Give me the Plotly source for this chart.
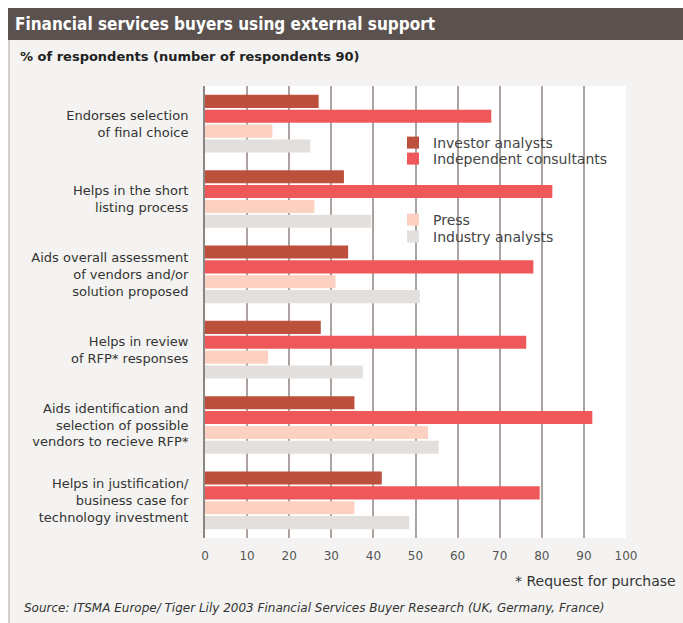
import plotly.graph_objects as go

categories = [
    "Endorses selection<br>of final choice",
    "Helps in the short<br>listing process",
    "Aids overall assessment<br>of vendors and/or<br>solution proposed",
    "Helps in review<br>of RFP* responses",
    "Aids identification and<br>selection of possible<br>vendors to recieve RFP*",
    "Helps in justification/<br>business case for<br>technology investment",
]
series_names = ["Investor analysts", "Independent consultants", "Press", "Industry analysts"]
investor = [27, 33, 34, 27.5, 35.5, 42]
independent = [68, 82.5, 78, 76.3, 92, 79.5]
press = [16, 26, 31, 15, 53, 35.5]
industry = [25, 39.5, 51, 37.5, 55.5, 48.5]
tick_vals = [0, 10, 20, 30, 40, 50, 60, 70, 80, 90, 100]

colors = ["#bd503d", "#ef585a", "#fcd1c1", "#e3dfdc"]
values = [investor, independent, press, industry]

# plot area in pixels
L, R, T, B = 205, 626, 86, 538
W, H = R - L, B - T
def px(x):
    return (x - L) / W
def py(y):
    return (B - y) / H

FONT = "Liberation Sans Narrow, DejaVu Sans Condensed, Liberation Sans, Arial, sans-serif"
FONT2 = "DejaVu Sans, Liberation Sans, Arial, sans-serif"

fig = go.Figure()
legend_ids = ["legend", "legend2", "legend3", "legend4"]
legend_y = [143, 159, 220, 237]
for name, vals, col, lid in zip(series_names, values, colors, legend_ids):
    fig.add_trace(go.Bar(
        y=categories, x=vals, orientation="h", name=name,
        marker=dict(color=col, line=dict(width=0)),
        legend=lid,
    ))

legend_common = dict(
    xanchor="left", yanchor="middle", bgcolor="rgba(0,0,0,0)", borderwidth=0,
    font=dict(family=FONT2, size=14, color="#444444"),
)
layout_legends = {}
for lid, ly in zip(legend_ids, legend_y):
    layout_legends[lid] = dict(x=px(393), y=py(ly), **legend_common)

shapes = [
    # white top and left strips
    dict(type="rect", xref="paper", yref="paper", x0=px(0), x1=px(683), y0=py(8), y1=py(0),
         fillcolor="white", line=dict(width=0), layer="below"),
    dict(type="rect", xref="paper", yref="paper", x0=px(0), x1=px(8), y0=py(623), y1=py(0),
         fillcolor="white", line=dict(width=0), layer="below"),
    # title bar
    dict(type="rect", xref="paper", yref="paper", x0=px(8), x1=px(683), y0=py(40), y1=py(8),
         fillcolor="#5b524f", line=dict(width=0), layer="below"),
    # left border line
    dict(type="line", xref="paper", yref="paper", x0=px(9), x1=px(9), y0=py(40), y1=py(623),
         line=dict(color="#c9c5c2", width=1.5), layer="below"),
]

annotations = [
    dict(text="<b>Financial services buyers using external support</b>", x=px(13), y=py(24),
         xref="paper", yref="paper", xanchor="left", yanchor="middle", showarrow=False,
         font=dict(family=FONT, size=17, color="white")),
    dict(text="<b>% of respondents (number of respondents 90)</b>", x=px(18), y=py(56),
         xref="paper", yref="paper", xanchor="left", yanchor="middle", showarrow=False,
         font=dict(family=FONT2, size=13, color="#222222")),
    dict(text="* Request for purchase", x=px(678), y=py(581),
         xref="paper", yref="paper", xanchor="right", yanchor="middle", showarrow=False,
         font=dict(family=FONT2, size=14, color="#333333")),
    dict(text="<i>Source: ITSMA Europe/ Tiger Lily 2003 Financial Services Buyer Research (UK, Germany, France)</i>",
         x=px(22), y=py(608),
         xref="paper", yref="paper", xanchor="left", yanchor="middle", showarrow=False,
         font=dict(family=FONT2, size=12, color="#333333")),
]

fig.update_layout(
    width=683, height=623,
    margin=dict(l=L, r=683 - R, t=T, b=623 - B, pad=0),
    paper_bgcolor="#f4f3f1", plot_bgcolor="white",
    barmode="group", bargap=0.21, bargroupgap=0.12,
    showlegend=True,
    shapes=shapes, annotations=annotations,
    **layout_legends,
)
fig.update_xaxes(
    range=[0, 100], tickvals=tick_vals, showgrid=True, gridcolor="#aba39f", gridwidth=1.5,
    zeroline=False, showline=False, ticks="outside", ticklen=7, tickcolor="rgba(0,0,0,0)",
    fixedrange=True,
    tickfont=dict(family=FONT2, size=12, color="#555555"),
)
fig.update_yaxes(
    autorange="reversed", showline=True, linecolor="#8c8682", linewidth=2,
    ticks="outside", ticklen=12, tickcolor="rgba(0,0,0,0)", showgrid=False,
    tickfont=dict(family=FONT2, size=13, color="#333333"),
)

fig.write_html("out.html")
